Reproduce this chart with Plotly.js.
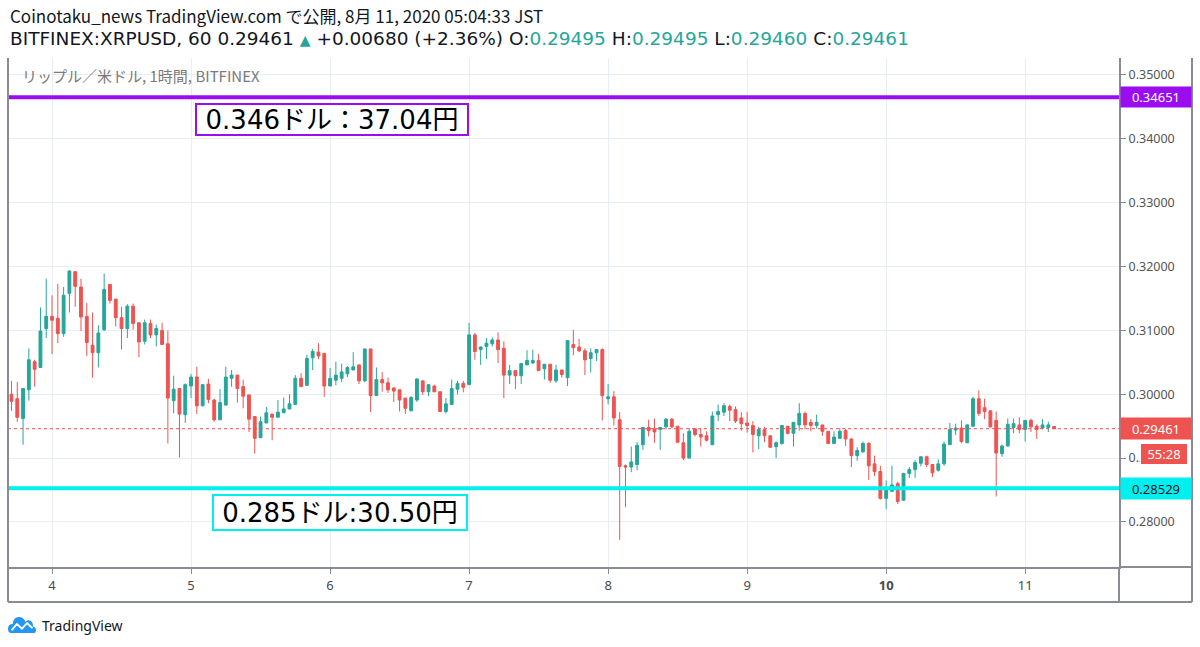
<!DOCTYPE html>
<html>
<head>
<meta charset="utf-8">
<script src="https://cdn.plot.ly/plotly-3.0.1.min.js"></script>
<style>html,body{margin:0;padding:0;background:#fff;}#chart{width:1200px;height:647px;}</style>
</head>
<body>
<div id="chart"></div>
<script>
// ---- DATA (XRPUSD, Bitfinex, 1h candles, first candle 2020-08-03 17:00 JST) ----
const startTime = "2020-08-03T17:00:00";
const openP = [
0.3000,0.2993,0.2962,0.3007,0.3051,0.3042,0.3103,0.3122,0.3119,0.3095,
0.3158,0.3192,0.3168,0.3122,0.3077,0.3065,0.3101,0.3172,0.3149,0.3120,
0.3103,0.3138,0.3112,0.3083,0.3111,0.3093,0.3100,0.3079,0.2990,0.3009,
0.2968,0.3013,0.3027,0.2982,0.3016,0.2991,0.2960,0.2983,0.3025,0.3030,
0.3012,0.2999,0.2965,0.2932,0.2955,0.2969,0.2964,0.2971,0.2977,0.2984,
0.3025,0.3014,0.3057,0.3066,0.3064,0.3013,0.3022,0.3025,0.3032,0.3038,
0.3046,0.3021,0.3071,0.2998,0.3023,0.3018,0.3010,0.3007,0.2994,0.2974,
0.2991,0.3021,0.3004,0.3013,0.3004,0.2973,0.2984,0.3008,0.3017,0.3015,
0.3093,0.3070,0.3075,0.3079,0.3085,0.3072,0.3030,0.3037,0.3029,0.3046,
0.3049,0.3053,0.3040,0.3047,0.3021,0.3038,0.3026,0.3078,0.3074,0.3068,
0.3056,0.3065,0.3070,0.2993,0.2996,0.2960,0.2888,0.2886,0.2890,0.2921,
0.2948,0.2946,0.2945,0.2949,0.2961,0.2950,0.2924,0.2900,0.2946,0.2937,
0.2935,0.2921,0.2968,0.2972,0.2981,0.2976,0.2963,0.2955,0.2951,0.2935,
0.2945,0.2935,0.2918,0.2923,0.2950,0.2939,0.2952,0.2970,0.2956,0.2951,
0.2952,0.2942,0.2923,0.2931,0.2943,0.2930,0.2904,0.2910,0.2923,0.2891,
0.2879,0.2837,0.2848,0.2860,0.2834,0.2876,0.2882,0.2892,0.2902,0.2890,
0.2881,0.2891,0.2921,0.2944,0.2947,0.2924,0.2950,0.2993,0.2979,0.2974,
0.2959,0.2907,0.2919,0.2948,0.2952,0.2945,0.2959,0.2950,0.2947,0.2948,
0.29495];
const highP = [
0.3021,0.3019,0.3009,0.3072,0.3054,0.3136,0.3181,0.3155,0.3173,0.3168,
0.3194,0.3192,0.3181,0.3143,0.3128,0.3108,0.3189,0.3172,0.3149,0.3137,
0.3141,0.3142,0.3112,0.3117,0.3117,0.3109,0.3112,0.3100,0.3029,0.3009,
0.3017,0.3032,0.3043,0.3016,0.3024,0.2993,0.3008,0.3043,0.3038,0.3030,
0.3023,0.2999,0.2965,0.2965,0.2980,0.2969,0.2991,0.2995,0.3000,0.3030,
0.3033,0.3062,0.3071,0.3080,0.3064,0.3041,0.3051,0.3048,0.3044,0.3066,
0.3046,0.3071,0.3071,0.3042,0.3035,0.3026,0.3010,0.3007,0.2994,0.2997,
0.3025,0.3021,0.3016,0.3015,0.3004,0.2994,0.3023,0.3021,0.3021,0.3112,
0.3096,0.3075,0.3088,0.3089,0.3097,0.3083,0.3046,0.3037,0.3049,0.3069,
0.3070,0.3063,0.3047,0.3047,0.3046,0.3038,0.3084,0.3101,0.3087,0.3072,
0.3072,0.3070,0.3072,0.3016,0.3005,0.2972,0.2890,0.2918,0.2925,0.2948,
0.2960,0.2962,0.2948,0.2963,0.2963,0.2950,0.2939,0.2947,0.2946,0.2946,
0.2942,0.2973,0.2984,0.2986,0.2984,0.2981,0.2972,0.2972,0.2958,0.2949,
0.2949,0.2935,0.2926,0.2952,0.2950,0.2956,0.2986,0.2973,0.2961,0.2968,
0.2952,0.2942,0.2942,0.2947,0.2946,0.2931,0.2917,0.2926,0.2925,0.2904,
0.2888,0.2865,0.2888,0.2863,0.2877,0.2886,0.2897,0.2903,0.2904,0.2890,
0.2898,0.2926,0.2955,0.2954,0.2959,0.2953,0.2996,0.3006,0.2993,0.2974,
0.2973,0.2921,0.2962,0.2962,0.2964,0.2959,0.2962,0.2953,0.2961,0.2957,
0.29495];
const lowP = [
0.2974,0.2957,0.2921,0.2990,0.3012,0.3041,0.3088,0.3063,0.3080,0.3090,
0.3128,0.3137,0.3099,0.3060,0.3026,0.3042,0.3099,0.3142,0.3106,0.3070,
0.3088,0.3101,0.3058,0.3078,0.3088,0.3075,0.3078,0.2923,0.2970,0.2901,
0.2955,0.2994,0.2969,0.2981,0.2986,0.2957,0.2960,0.2983,0.3012,0.2987,
0.2978,0.2941,0.2907,0.2932,0.2955,0.2928,0.2964,0.2971,0.2977,0.2984,
0.3012,0.3014,0.3038,0.3055,0.2996,0.3013,0.3014,0.3019,0.3027,0.3038,
0.3016,0.3019,0.2972,0.2998,0.3004,0.3002,0.2988,0.2973,0.2969,0.2974,
0.2988,0.2999,0.2997,0.3003,0.2973,0.2970,0.2984,0.3000,0.3003,0.3015,
0.3054,0.3046,0.3055,0.3075,0.3049,0.2994,0.3016,0.3008,0.3016,0.3046,
0.3048,0.3037,0.3023,0.3018,0.3018,0.3026,0.3013,0.3061,0.3066,0.3030,
0.3034,0.3052,0.2959,0.2984,0.2951,0.2772,0.2823,0.2878,0.2881,0.2913,
0.2934,0.2924,0.2913,0.2945,0.2947,0.2924,0.2897,0.2900,0.2934,0.2918,
0.2926,0.2921,0.2958,0.2966,0.2958,0.2955,0.2943,0.2940,0.2909,0.2914,
0.2925,0.2916,0.2900,0.2921,0.2937,0.2918,0.2943,0.2945,0.2942,0.2946,
0.2935,0.2923,0.2923,0.2931,0.2919,0.2886,0.2896,0.2908,0.2866,0.2872,
0.2835,0.2820,0.2848,0.2828,0.2834,0.2869,0.2869,0.2887,0.2886,0.2870,
0.2879,0.2888,0.2921,0.2936,0.2924,0.2924,0.2949,0.2966,0.2961,0.2948,
0.2840,0.2902,0.2918,0.2939,0.2939,0.2926,0.2941,0.2930,0.2945,0.2941,
0.29460];
const closeP = [
0.2989,0.2964,0.3009,0.3054,0.3039,0.3099,0.3122,0.3116,0.3095,0.3155,
0.3193,0.3169,0.3121,0.3081,0.3065,0.3096,0.3164,0.3147,0.3120,0.3103,
0.3138,0.3111,0.3082,0.3112,0.3093,0.3103,0.3078,0.2994,0.3008,0.2969,
0.3015,0.3027,0.2982,0.3015,0.2992,0.2960,0.2987,0.3027,0.3030,0.3009,
0.2997,0.2961,0.2931,0.2957,0.2971,0.2964,0.2972,0.2977,0.2985,0.3025,
0.3012,0.3056,0.3067,0.3060,0.3013,0.3025,0.3030,0.3035,0.3042,0.3043,
0.3021,0.3071,0.2998,0.3023,0.3018,0.3007,0.3005,0.2991,0.2978,0.2995,
0.3024,0.3004,0.3015,0.3004,0.2973,0.2985,0.3009,0.3017,0.3011,0.3093,
0.3067,0.3074,0.3080,0.3085,0.3070,0.3030,0.3037,0.3029,0.3048,0.3053,
0.3053,0.3037,0.3047,0.3022,0.3038,0.3031,0.3084,0.3073,0.3068,0.3054,
0.3065,0.3070,0.2998,0.2996,0.2963,0.2887,0.2886,0.2894,0.2920,0.2948,
0.2943,0.2941,0.2948,0.2961,0.2949,0.2925,0.2900,0.2942,0.2937,0.2933,
0.2928,0.2966,0.2973,0.2982,0.2975,0.2958,0.2954,0.2951,0.2937,0.2945,
0.2935,0.2917,0.2924,0.2951,0.2939,0.2956,0.2970,0.2952,0.2951,0.2956,
0.2942,0.2923,0.2933,0.2942,0.2930,0.2904,0.2912,0.2923,0.2888,0.2879,
0.2837,0.2850,0.2858,0.2832,0.2876,0.2882,0.2893,0.2902,0.2890,0.2877,
0.2891,0.2922,0.2945,0.2947,0.2926,0.2952,0.2993,0.2970,0.2973,0.2949,
0.2908,0.2919,0.2953,0.2954,0.2945,0.2959,0.2949,0.2945,0.2952,0.2952,
0.29461];

const dayTickDates = ["2020-08-04","2020-08-05","2020-08-06","2020-08-07","2020-08-08","2020-08-09","2020-08-10","2020-08-11"];
const dayTickLabels = ["4","5","6","7","8","9","<b>10</b>","11"];
const priceTicks = [0.28,0.29,0.30,0.31,0.32,0.33,0.34,0.35];
const resistanceLevel = 0.34651;
const supportLevel = 0.28529;
const lastPrice = 0.29461;
const resistanceNote = "0.346ドル：37.04円";
const supportNote = "0.285ドル:30.50円";
const countdownText = "55:28";
const chartLabel = "リップル／米ドル, 1時間, BITFINEX";

// ---- build times ----
function pad(n){return (n<10?"0":"")+n;}
const t0 = Date.UTC(2020,7,3,17,0,0);
const times = openP.map((_,i)=>{
  const d = new Date(t0 + i*3600000);
  return d.getUTCFullYear()+"-"+pad(d.getUTCMonth()+1)+"-"+pad(d.getUTCDate())+" "+pad(d.getUTCHours())+":00";
});

const GREEN = "#26a69a", RED = "#ef5350", PURPLE = "#9c0cf0", CYAN = "#00f0f0";
const FRAME = "#8a8c94";

const trace = {
  type:"candlestick", x:times, open:openP, high:highP, low:lowP, close:closeP,
  increasing:{line:{color:GREEN,width:1},fillcolor:GREEN},
  decreasing:{line:{color:RED,width:1},fillcolor:RED},
  whiskerwidth:0, hoverinfo:"skip"
};

// pixel helpers (plot area: x 8..1119, y 58..567)
const PL=8, PR=1119, PT=58, PB=567;
const px = v => (v-PL)/(PR-PL);
const py = v => (PB-v)/(PB-PT);

const font = "Noto Sans, Noto Sans CJK JP, sans-serif";
const cjk = "Noto Sans CJK JP, Noto Sans, sans-serif";
const wide = "DejaVu Sans, Noto Sans CJK JP, sans-serif";

const header1 = "Coinotaku_news TradingView.com で公開, 8月 11, 2020 05:04:33 JST";
const header2 = "BITFINEX:XRPUSD, 60 0.29461 <span style='color:"+GREEN+";font-size:14px'>▲</span> +0.00680 (+2.36%) O:<span style='color:"+GREEN+"'>0.29495</span> H:<span style='color:"+GREEN+"'>0.29495</span> L:<span style='color:"+GREEN+"'>0.29460</span> C:<span style='color:"+GREEN+"'>0.29461</span>";

const logoSvg = "<svg xmlns='http://www.w3.org/2000/svg' viewBox='0 0 36 20'><path d='M4 19 Q0 19 0 14.5 Q0 9.5 6 9.5 Q7 2 14 2 Q20 2 22.5 7 Q25.5 4.5 29 6 Q32.5 8 32 12 Q36 12.5 36 16 Q36 19 32 19 Z' fill='#2196f3'/><polyline points='4.5,16 11.5,9.5 18,14.5 24.5,8.5 31.5,14' fill='none' stroke='#fff' stroke-width='2.2' stroke-linejoin='round'/></svg>";

const layout = {
  width:1200, height:647,
  margin:{l:PL, r:1200-PR, t:PT, b:647-PB, pad:0},
  paper_bgcolor:"#ffffff", plot_bgcolor:"#ffffff",
  showlegend:false,
  font:{family:font, color:"#333"},
  xaxis:{
    type:"date",
    range:["2020-08-03 16:24","2020-08-11 16:12"],
    rangeslider:{visible:false},
    tickvals:dayTickDates, ticktext:dayTickLabels,
    showgrid:true, gridcolor:"#e9eef4", gridwidth:1,
    showline:true, linecolor:FRAME, linewidth:2, mirror:false,
    ticks:"outside", ticklen:5, tickcolor:FRAME,
    tickfont:{size:13, color:"#4a4a4a", family:font},
    zeroline:false, fixedrange:true
  },
  yaxis:{
    side:"right",
    range:[0.27295,0.35266],
    tickvals:priceTicks, ticktext:priceTicks.map(v=>v.toFixed(5)),
    showgrid:true, gridcolor:"#e9eef4", gridwidth:1,
    showline:true, linecolor:FRAME, linewidth:2,
    ticks:"outside", ticklen:5, tickcolor:FRAME,
    tickfont:{size:12.5, color:"#555", family:font},
    zeroline:false, fixedrange:true
  },
  shapes:[
    {type:"line", xref:"paper", yref:"y", x0:0, x1:1, y0:lastPrice, y1:lastPrice, line:{color:RED, width:1, dash:"dot"}},
    {type:"line", xref:"paper", yref:"y", x0:0, x1:1, y0:resistanceLevel, y1:resistanceLevel, line:{color:PURPLE, width:4}},
    {type:"line", xref:"paper", yref:"y", x0:0, x1:1, y0:supportLevel, y1:supportLevel, line:{color:CYAN, width:4}},
    // frame
    {type:"line", xref:"paper", yref:"paper", x0:0, x1:0, y0:py(602), y1:1, line:{color:FRAME, width:2}},
    {type:"line", xref:"paper", yref:"paper", x0:px(1192), x1:px(1192), y0:py(602), y1:1, line:{color:FRAME, width:2}},
    {type:"line", xref:"paper", yref:"paper", x0:0, x1:px(1192), y0:py(602), y1:py(602), line:{color:FRAME, width:2}},
    {type:"line", xref:"paper", yref:"paper", x0:1, x1:px(1192), y0:0, y1:0, line:{color:FRAME, width:2}},
    {type:"line", xref:"paper", yref:"paper", x0:1, x1:1, y0:py(602), y1:0, line:{color:FRAME, width:2}}
  ],
  annotations:[
    {xref:"paper", yref:"paper", x:0, y:py(16), xanchor:"left", yanchor:"middle", showarrow:false,
     text:header1, font:{size:17, color:"#131722", family:cjk}},
    {xref:"paper", yref:"paper", x:0, y:py(38), xanchor:"left", yanchor:"middle", showarrow:false,
     text:header2, font:{size:18.5, color:"#131722", family:wide}},
    {xref:"paper", yref:"paper", x:px(20), y:py(75), xanchor:"left", yanchor:"middle", showarrow:false,
     text:chartLabel, font:{size:15, color:"#7a7a7a", family:cjk}},
    {xref:"paper", yref:"paper", x:px(331.5), y:py(119.5), xanchor:"center", yanchor:"middle", showarrow:false,
     text:resistanceNote, font:{size:26, color:"#000", family:wide},
     bgcolor:"#ffffff", bordercolor:PURPLE, borderwidth:2, borderpad:1, width:268, height:27},
    {xref:"paper", yref:"paper", x:px(339.5), y:py(512), xanchor:"center", yanchor:"middle", showarrow:false,
     text:supportNote, font:{size:26, color:"#000", family:wide},
     bgcolor:"#ffffff", bordercolor:CYAN, borderwidth:2, borderpad:1, width:250, height:31},
    // price labels
    {xref:"paper", yref:"y", x:1, y:resistanceLevel, xanchor:"left", yanchor:"middle", xshift:1, showarrow:false,
     text:resistanceLevel.toFixed(5), font:{size:13, color:"#ffffff", family:font},
     bgcolor:PURPLE, borderpad:2, width:66, height:16},
    {xref:"paper", yref:"y", x:1, y:lastPrice, xanchor:"left", yanchor:"middle", xshift:1, showarrow:false,
     text:lastPrice.toFixed(5), font:{size:13, color:"#ffffff", family:font},
     bgcolor:RED, borderpad:2, width:66, height:17},
    {xref:"paper", yref:"paper", x:1, y:py(454), xanchor:"left", yanchor:"middle", xshift:21, showarrow:false,
     text:countdownText, font:{size:13, color:"#ffffff", family:font},
     bgcolor:RED, bordercolor:"#ffffff", borderwidth:1, borderpad:1, width:44, height:18},
    {xref:"paper", yref:"y", x:1, y:supportLevel, xanchor:"left", yanchor:"middle", xshift:1, showarrow:false,
     text:supportLevel.toFixed(5), font:{size:13, color:"#131722", family:font},
     bgcolor:CYAN, borderpad:2, width:66, height:17},
    {xref:"paper", yref:"paper", x:px(40), y:py(625), xanchor:"left", yanchor:"middle", showarrow:false,
     text:"TradingView", font:{size:14, color:"#131722", family:font}}
  ],
  images:[
    {source:"data:image/svg+xml;charset=utf-8,"+encodeURIComponent(logoSvg),
     xref:"paper", yref:"paper", x:0, y:py(615), sizex:px(36)-px(8), sizey:py(615)-py(634),
     xanchor:"left", yanchor:"top", sizing:"stretch", layer:"above"}
  ]
};

Plotly.newPlot("chart", [trace], layout, {displayModeBar:false, staticPlot:true});
</script>
</body>
</html>
